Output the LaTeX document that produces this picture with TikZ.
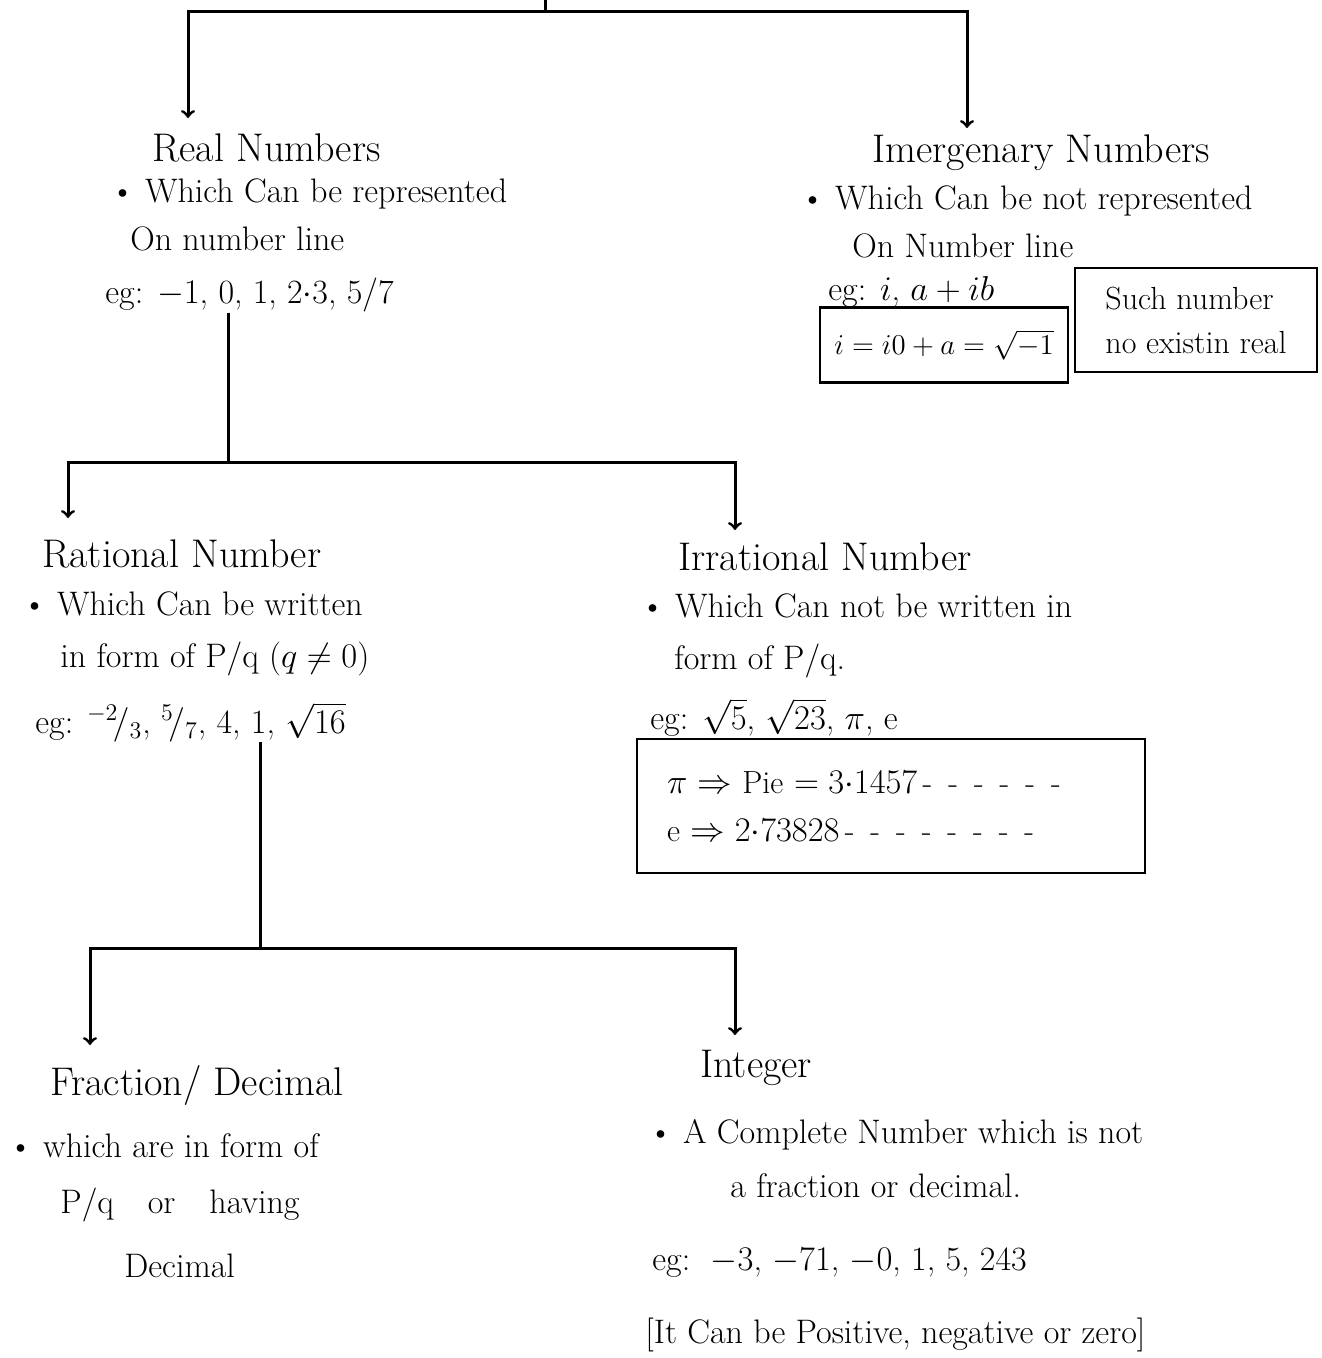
\documentclass[tikz,border=0pt]{standalone}
\usepackage{tikz}
\usetikzlibrary{arrows}
\tikzstyle{headText} = [anchor=north west, inner sep=0pt, text=black,
	font=\fontsize{20}{24}\selectfont]
\tikzstyle{bodyText} = [anchor=north west, inner sep=0pt, text=black, align=left,
	font=\fontsize{17}{24}\selectfont]
\tikzstyle{noteBox} = [shape=rectangle, draw=black, text=black, line width=1.3pt,
	align=left, font=\fontsize{16}{22}\selectfont]

\begin{document}
\begin{tikzpicture}[x=0.5pt, y=-0.5pt,
	branch/.style = {line width=1.5pt, draw},
	tip/.style = {branch, ->}
  ]
  \useasboundingbox (0,0) rectangle (1321,1358);

  \node[headText] (real) at (152,128) {\strut Real Numbers};
  \node[bodyText] (realText) at (110,169) {\strut\textbullet\ Which Can be represented\\
  	\hspace{10pt}On number line};
  \node[bodyText] (realEg) at (105,278) {eg: $-1$, 0, 1, 2$\cdot$3, 5/7};

  \node[headText] (imag) at (872,129) {\strut Imergenary Numbers};
  \node[bodyText] (imagText) at (800,176) {\strut\textbullet\ Which Can be not represented\\
  	\hspace{26pt}On Number line};
  \node[bodyText] (imagEg) at (828,276) {eg: $i$, $a+ib$};
  \node[noteBox, minimum width=124pt, minimum height=37.5pt, inner sep=2pt,
  	font=\fontsize{14}{18}\selectfont] (imagRoot) at (944,345) {$i = i0 + a = \sqrt{-1}$};
  \node[noteBox, minimum width=121pt, minimum height=52pt, inner sep=3pt]
  	(imagNote) at (1196,320) {Such number\\ no existin real};

  \node[headText] (rat) at (42,533) {\strut Rational Number};
  \node[bodyText] (ratText) at (22,581) {\strut\textbullet\ Which Can be written\\[2pt]
  	\hspace{19pt}in form of P/q ($q \neq 0$)};
  \node[bodyText] (ratEg) at (35,702) {eg: $^{-2}\!/_{3}$, $^{5}\!/_{7}$, 4, 1, $\sqrt{16}$};

  \node[headText] (irr) at (678,536) {\strut Irrational Number};
  \node[bodyText] (irrText) at (640,583) {\strut\textbullet\ Which Can not be written in\\[2pt]
  	\hspace{17pt}form of P/q.};
  \node[bodyText] (irrEg) at (650,698) {eg: $\sqrt{5}$, $\sqrt{23}$, $\pi$, e};
  \node[noteBox, text width=224pt, inner xsep=15pt, minimum height=67pt]
  	(irrNote) at (891,806) {$\pi \Rightarrow$ Pie $= 3{\cdot}1457$\,-\enspace-\enspace-\enspace-\enspace-\enspace-\\[2pt]
  	e $\Rightarrow 2{\cdot}73828$\,-\enspace-\enspace-\enspace-\enspace-\enspace-\enspace-\enspace-};

  \node[headText] (frac) at (50,1061) {\strut Fraction/ Decimal};
  \node[bodyText] (fracText) at (8,1123) {\strut\textbullet\ which are in form of\\[4pt]
  	\hspace{26pt}P/q\quad or\quad having\\[8pt]
  	\hspace{58pt}Decimal};

  \node[headText] (int) at (700,1043) {\strut Integer};
  \node[bodyText] (intText) at (648,1109) {\strut\textbullet\ A Complete Number which is not\\[3pt]
  	\hspace{41pt}a fraction or decimal.};
  \node[bodyText] (intEg) at (652,1236) {\strut eg:\ \ $-3$, $-71$, $-0$, 1, 5, 243};
  \node[bodyText] (intNote) at (645,1309) {\strut [It Can be Positive, negative or zero]};

  \coordinate (root) at (545,0);
  \coordinate (rootFork) at (545,12);
  \coordinate (realTip) at (188,118);
  \coordinate (imagTip) at (967,128);
  \coordinate (realFork) at (228,462);
  \coordinate (ratTip) at (68,518);
  \coordinate (irrTip) at (735,530);
  \coordinate (ratFork) at (260,948);
  \coordinate (fracTip) at (90,1045);
  \coordinate (intTip) at (735,1035);

  \draw[branch] (root) -- (rootFork);
  \draw[tip] (rootFork) -| (realTip);
  \draw[tip] (rootFork) -| (imagTip);
  \draw[branch] (realEg.south -| realFork) -- (realFork);
  \draw[tip] (realFork) -| (ratTip);
  \draw[tip] (realFork) -| (irrTip);
  \draw[branch] (ratEg.south -| ratFork) -- (ratFork);
  \draw[tip] (ratFork) -| (fracTip);
  \draw[tip] (ratFork) -| (intTip);
\end{tikzpicture}
\end{document}
